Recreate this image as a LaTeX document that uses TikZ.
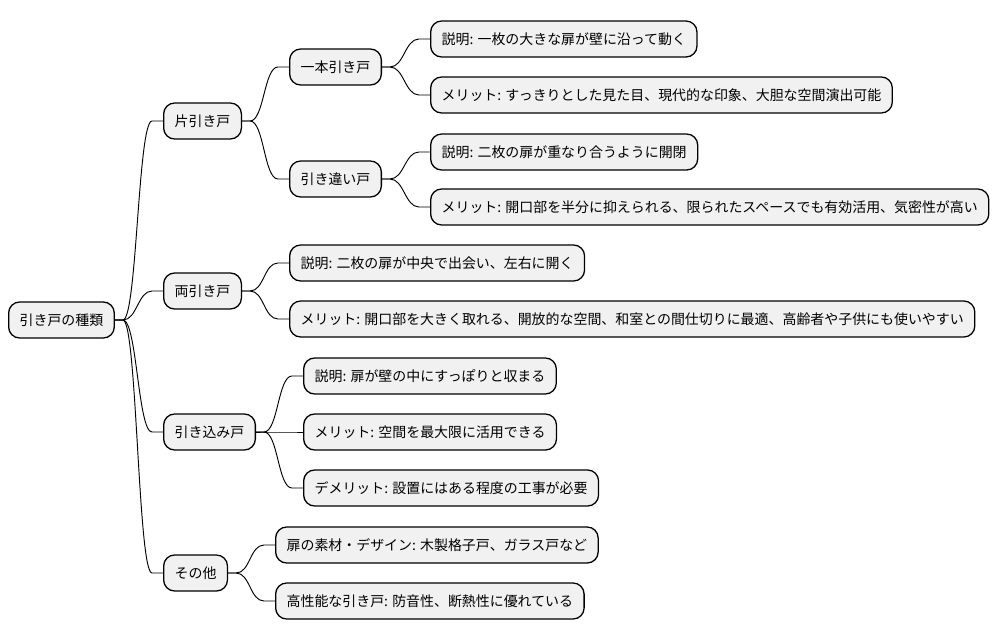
\documentclass[tikz,border=0pt]{standalone}
\usepackage{fontspec}
\setmainfont{Noto Sans CJK JP}
\usetikzlibrary{positioning}
\definecolor{boxgray}{HTML}{F1F1F1}

\begin{document}
\begin{tikzpicture}[x=0.03cm,y=-0.03cm,
    box/.style={draw,line width=1.1pt,rounded corners=0.33cm,fill=boxgray,anchor=west,
        minimum height=1.08cm,inner xsep=0.33cm,font=\fontsize{11.9}{14}\selectfont},
    branch/.style={line width=0.8pt,
        to path={-- ++(0.24cm,0) .. controls +(0.42cm,0) and +(-0.42cm,0) .. ([xshift=-0.33cm]\tikztotarget) -- (\tikztotarget)}}]

                    \useasboundingbox (0,0) rectangle (1002,640);

                    \node[box] (root) at (8,320) {引き戸の種類};

                    \node[box] (kata) at (163,121) {片引き戸};
                    \node[box] (ippon) at (289,67) {一本引き戸};
                    \node[box] (ippon1) at (430,39) {説明: 一枚の大きな扉が壁に沿って動く};
                    \node[box] (ippon2) at (430,95) {メリット: すっきりとした見た目、現代的な印象、大胆な空間演出可能};
                    \node[box] (chigai) at (289,179) {引き違い戸};
                    \node[box] (chigai1) at (430,152) {説明: 二枚の扉が重なり合うように開閉};
                    \node[box] (chigai2) at (430,207) {メリット: 開口部を半分に抑えられる、限られたスペースでも有効活用、気密性が高い};

                    \node[box] (ryo) at (163,291) {両引き戸};
                    \node[box] (ryo1) at (289,263) {説明: 二枚の扉が中央で出会い、左右に開く};
                    \node[box] (ryo2) at (289,319) {メリット: 開口部を大きく取れる、開放的な空間、和室との間仕切りに最適、高齢者や子供にも使いやすい};

                    \node[box] (komi) at (163,432) {引き込み戸};
                    \node[box] (komi1) at (303,376) {説明: 扉が壁の中にすっぽりと収まる};
                    \node[box] (komi2) at (303,432) {メリット: 空間を最大限に活用できる};
                    \node[box] (komi3) at (303,488) {デメリット: 設置にはある程度の工事が必要};

                    \node[box] (sonota) at (163,573) {その他};
                    \node[box] (sonota1) at (275,545) {扉の素材・デザイン: 木製格子戸、ガラス戸など};
                    \node[box] (sonota2) at (275,601) {高性能な引き戸: 防音性、断熱性に優れている};

                    \path
                        (root.east) edge[branch] (kata.west)
                        (root.east) edge[branch] (ryo.west)
                        (root.east) edge[branch] (komi.west)
                        (root.east) edge[branch] (sonota.west)
                        (kata.east) edge[branch] (ippon.west)
                        (kata.east) edge[branch] (chigai.west)
                        (ippon.east) edge[branch] (ippon1.west)
                        (ippon.east) edge[branch] (ippon2.west)
                        (chigai.east) edge[branch] (chigai1.west)
                        (chigai.east) edge[branch] (chigai2.west)
                        (ryo.east) edge[branch] (ryo1.west)
                        (ryo.east) edge[branch] (ryo2.west)
                        (komi.east) edge[branch] (komi1.west)
                        (komi.east) edge[branch] (komi2.west)
                        (komi.east) edge[branch] (komi3.west)
                        (sonota.east) edge[branch] (sonota1.west)
                        (sonota.east) edge[branch] (sonota2.west)
                        ;
                \end{tikzpicture}
\end{document}
